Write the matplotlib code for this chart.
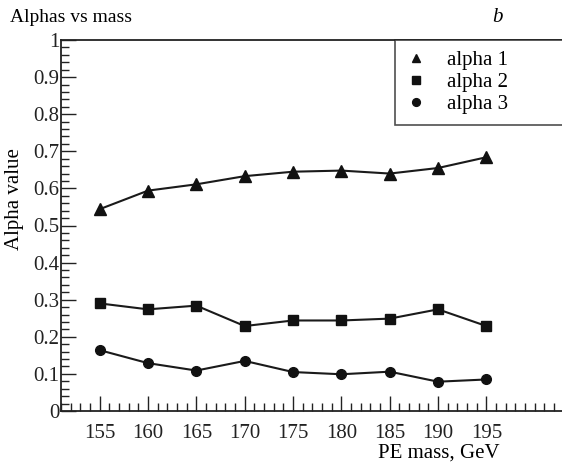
import matplotlib
matplotlib.use("Agg")
import matplotlib.pyplot as plt
from matplotlib.ticker import MultipleLocator

plt.rcParams['font.family'] = ['Liberation Serif', 'DejaVu Serif']

mass = [155, 160, 165, 170, 175, 180, 185, 190, 195]
alpha1 = [0.544, 0.594, 0.611, 0.633, 0.645, 0.648, 0.640, 0.655, 0.684]
alpha2 = [0.290, 0.274, 0.284, 0.229, 0.244, 0.244, 0.249, 0.274, 0.229]
alpha3 = [0.164, 0.129, 0.109, 0.135, 0.105, 0.099, 0.106, 0.079, 0.085]
labels = ["alpha 1", "alpha 2", "alpha 3"]

fig = plt.figure(figsize=(5.62, 4.67), dpi=100)
ax = fig.add_axes([61 / 562, 1 - 411 / 467, 1.01 - 61 / 562, (411 - 40) / 467])

# lines first, then markers on top
for vals in (alpha1, alpha2, alpha3):
    ax.plot(mass, vals, '-', color='#1a1a1a', lw=1.5, zorder=2)
m1, = ax.plot(mass, alpha1, '^', color='#111111', ms=8, zorder=3, label=labels[0])
m2, = ax.plot(mass, alpha2, 's', color='#111111', ms=7, zorder=3, label=labels[1])
m3, = ax.plot(mass, alpha3, 'o', color='#111111', ms=7, zorder=3, label=labels[2])

ax.set_xlim(151, 203.4)
ax.set_ylim(0, 1)
ax.xaxis.set_minor_locator(MultipleLocator(1))
ax.yaxis.set_minor_locator(MultipleLocator(0.02))
ax.set_xticks(mass)
ax.set_yticks([0, 0.1, 0.2, 0.3, 0.4, 0.5, 0.6, 0.7, 0.8, 0.9, 1])
ax.set_yticklabels(['0', '0.1', '0.2', '0.3', '0.4', '0.5', '0.6', '0.7', '0.8', '0.9', '1'])
ax.tick_params(which='major', direction='in', length=11, width=1, labelsize=15,
               colors='#222222')
ax.tick_params(which='minor', direction='in', length=6, width=1, colors='#222222')
ax.tick_params(axis='x', pad=9)
ax.tick_params(axis='y', pad=1)
ax.tick_params(top=False, right=False, which='both')
for sp in ax.spines.values():
    sp.set_linewidth(1.3)
    sp.set_color('#222222')
ax.spines['right'].set_visible(False)

fig.text(15 / 562, 1 - 199 / 467, "Alpha value", fontsize=15, rotation=90,
         ha='center', va='center')
fig.text(500 / 562, 1 - 453 / 467, "PE mass, GeV", fontsize=15, ha='right', va='center')
fig.text(10 / 562, 1 - 18 / 467, "Alphas vs mass", fontsize=14, ha='left', va='center')
fig.text(492 / 562, 1 - 18 / 467, "b", fontsize=15, style='italic', ha='left', va='center')

leg = fig.legend(handles=[m1, m2, m3], loc='upper left',
                 bbox_to_anchor=(395 / 562, 1 - 40 / 467, 1 - 395 / 562 + 0.01, 0.0),
                 mode='expand', fontsize=15, frameon=True, fancybox=False,
                 edgecolor='#222222', borderaxespad=0, borderpad=0.5,
                 handlelength=1.0, handletextpad=1.0, labelspacing=0.12,
                 markerscale=0.8)
leg.get_frame().set_linewidth(1.2)

fig.savefig("out.png", dpi=100)
